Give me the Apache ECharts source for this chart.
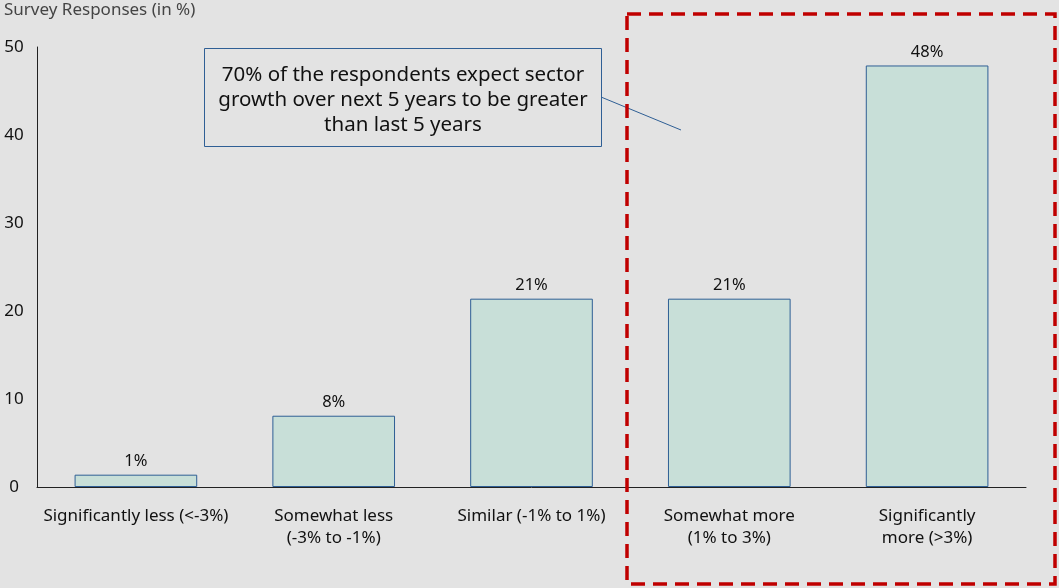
<!DOCTYPE html>
<html><head><meta charset="utf-8">
<script src="https://cdn.jsdelivr.net/npm/echarts@6/dist/echarts.min.js"></script>
<style>html,body{margin:0;padding:0;background:#e3e3e3}#c{width:1059px;height:588px}</style>
</head><body><div id="c"></div>
<script>
const categories = ['Significantly less (<-3%)', 'Somewhat less\n(-3% to -1%)', 'Similar (-1% to 1%)', 'Somewhat more\n(1% to 3%)', 'Significantly\nmore (>3%)'];
const values = [1.4, 8.1, 21.4, 21.4, 47.9];
const labels = ['1%', '8%', '21%', '21%', '48%'];
const yTicks = [0, 10, 20, 30, 40, 50];
const FONT = 'Noto Sans';
const chart = echarts.init(document.getElementById('c'));
chart.setOption({
  backgroundColor: '#e3e3e3',
  textStyle: {fontFamily: FONT},
  grid: {left: 37, right: 33, top: 47, bottom: 101, containLabel: false, outerBoundsMode: 'none'},
  xAxis: {
    type: 'category', data: categories,
    axisLine: {lineStyle: {color: '#222', width: 1}},
    axisTick: {show: false},
    axisLabel: {color: '#111', fontSize: 17, lineHeight: 22, margin: 18, fontFamily: FONT, interval: 0}
  },
  yAxis: {
    type: 'value', min: yTicks[0], max: yTicks[yTicks.length - 1], interval: 10,
    name: 'Survey Responses (in %)', nameLocation: 'end', nameGap: 28,
    nameTextStyle: {color: '#444', fontSize: 17, align: 'left', padding: [0, 0, 0, -33], fontFamily: FONT},
    axisLine: {show: true, lineStyle: {color: '#222', width: 1}},
    axisTick: {show: false},
    splitLine: {show: false},
    axisLabel: {color: '#111', fontSize: 17, margin: 23, align: 'center', fontFamily: FONT}
  },
  series: [{
    type: 'bar', data: values, barCategoryGap: '38%',
    itemStyle: {color: '#c8dfd8', borderColor: '#2f5f95', borderWidth: 1},
    label: {show: true, position: 'top', distance: 5, color: '#111', fontSize: 16.5, fontFamily: FONT,
      formatter: p => labels[p.dataIndex]}
  }],
  graphic: [
    {type: 'line', shape: {x1: 601, y1: 97, x2: 681, y2: 130}, style: {stroke: '#2f5f95', lineWidth: 1}, z: 10},
    {type: 'rect', shape: {x: 204.5, y: 48.5, width: 397, height: 98}, style: {fill: '#e3e3e3', stroke: '#2f5f95', lineWidth: 1}, z: 11},
    {type: 'text', x: 403, y: 100, z: 12, style: {
      text: '70% of the respondents expect sector\ngrowth over next 5 years to be greater\nthan last 5 years',
      fill: '#111', font: '20.5px "Noto Sans"', align: 'center', verticalAlign: 'middle', lineHeight: 25}},
    {type: 'rect', shape: {x: 627, y: 14, width: 428, height: 570}, z: 13,
      style: {fill: 'none', stroke: '#c00000', lineWidth: 3.5, lineDash: [14, 8]}}
  ]
});
</script></body></html>
